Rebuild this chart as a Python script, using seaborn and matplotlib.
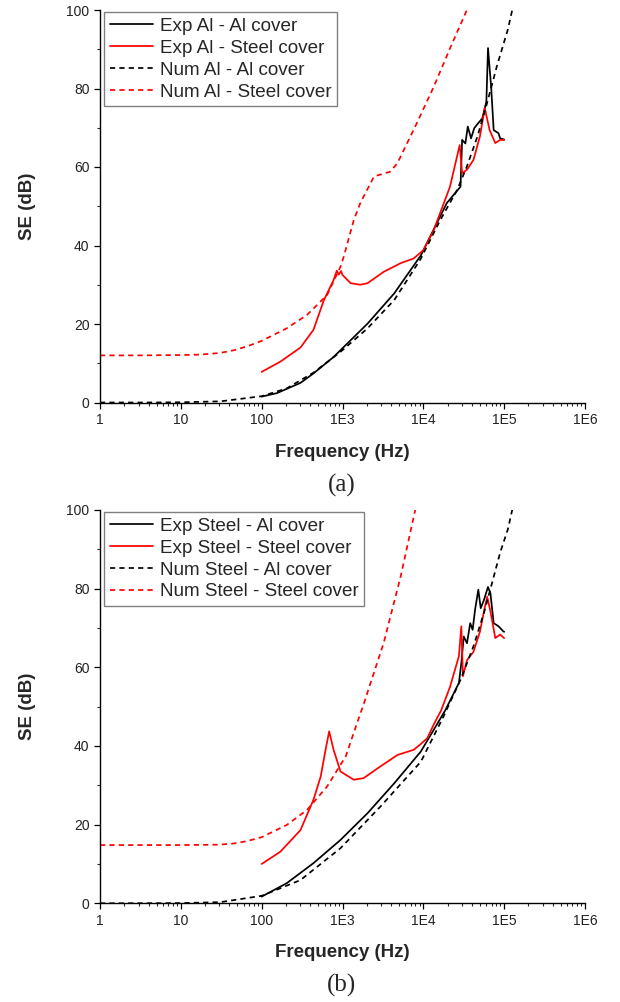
import numpy as np
import matplotlib
matplotlib.use('Agg')
import matplotlib.pyplot as plt
import matplotlib.ticker as mticker
import seaborn as sns

# ---- (a) Al enclosure ----
a_exp_al_f = [100, 155, 302, 437, 776, 2042, 4365, 9333, 19498, 28840, 30200, 33113,
              35481, 38905, 42658, 47863, 53703, 60256, 63096, 69183, 74131, 85114,
              89125, 100000]
a_exp_al_se = [1.5, 2.4, 5.0, 7.4, 11.6, 20.1, 27.8, 37.5, 50.8, 55.0, 66.9, 66.0,
               70.3, 67.3, 69.9, 71.2, 72.4, 76.7, 90.3, 80.1, 69.4, 68.6, 67.3, 67.0]

a_exp_st_f = [100, 170, 302, 437, 589, 776, 850, 900, 960, 1000, 1259, 1660, 2042, 3236,
              5248, 7586, 10000, 13490, 21380, 28184, 30200, 34674, 41687, 50119, 57544,
              66069, 77625, 89125, 100000]
a_exp_st_se = [7.8, 10.4, 14.0, 18.5, 26.1, 31.2, 33.6, 32.6, 33.5, 32.5, 30.4, 30.0,
               30.4, 33.3, 35.5, 36.7, 38.8, 44.0, 55.0, 65.6, 58.4, 59.3, 61.8, 67.8,
               75.0, 69.4, 66.1, 66.9, 66.9]

a_num_al_f = [1, 3.16, 10, 31, 100, 204, 437, 944, 2042, 4365, 9226, 16218, 26303,
              34674, 46774, 61660, 81283, 110917, 125893]
a_num_al_se = [0, 0, 0.05, 0.3, 1.6, 3.6, 7.6, 12.9, 18.9, 26.1, 36.5, 46.5, 54.2,
               60.2, 67.8, 76.4, 85.7, 95.0, 100.0]

a_num_st_f = [1, 3.16, 10, 17.4, 30, 45, 66, 100, 204, 363, 646, 944, 1035, 1380, 1660,
              2455, 3890, 4786, 8318, 13490, 21878, 36308]
a_num_st_se = [12.0, 12.0, 12.1, 12.2, 12.6, 13.3, 14.3, 15.7, 18.9, 22.3, 27.4, 34.6,
               37.1, 46.5, 50.8, 57.6, 58.8, 61.0, 71.2, 80.5, 90.7, 101.0]

# ---- (b) Steel enclosure ----
b_exp_al_f = [100, 204, 437, 944, 2042, 4365, 9333, 18621, 27542, 29512, 31623, 34674,
              38019, 40738, 43652, 47863, 51286, 56234, 63096, 67608, 74131, 85114,
              97724, 100000]
b_exp_al_se = [1.7, 5.1, 10.2, 16.1, 22.9, 30.5, 38.6, 49.0, 56.0, 61.0, 67.8, 66.1,
               71.2, 69.5, 74.6, 79.7, 75.0, 77.1, 80.4, 78.8, 71.2, 70.4, 69.1, 69.0]

b_exp_st_f = [100, 170, 302, 437, 537, 617, 684, 776, 944, 1380, 1820, 2951, 4786, 7586,
              9333, 11220, 13490, 16596, 21380, 27542, 29512, 30903, 34674, 41687,
              50119, 56234, 61660, 67608, 77625, 89125, 100000]
b_exp_st_se = [10.0, 13.1, 18.6, 26.3, 32.2, 39.0, 43.7, 39.0, 33.5, 31.4, 31.8, 34.8,
               37.7, 39.0, 40.5, 42.0, 45.5, 49.0, 55.0, 62.8, 70.4, 57.7, 61.8, 63.9,
               69.0, 74.2, 77.9, 74.2, 67.4, 68.3, 67.4]

b_num_al_f = [1, 10, 31, 100, 302, 944, 2951, 9333, 17783, 28840, 41687, 56234, 70795,
              89125, 110917, 125893]
b_num_al_se = [0, 0.05, 0.3, 1.9, 5.9, 14.0, 24.6, 36.0, 47.5, 56.8, 65.3, 73.8, 81.4,
               89.1, 95.0, 100.0]

b_num_st_f = [1, 10, 30, 45, 66, 100, 204, 363, 646, 944, 1096, 1380, 1820, 3236, 5248,
              7943]
b_num_st_se = [14.8, 14.8, 14.9, 15.2, 15.8, 16.8, 19.9, 23.7, 29.7, 35.2, 37.3, 43.4,
               50.5, 66.2, 83.1, 100.0]

a_labels = ['Exp Al - Al cover', 'Exp Al - Steel cover',
            'Num Al - Al cover', 'Num Al - Steel cover']
b_labels = ['Exp Steel - Al cover', 'Exp Steel - Steel cover',
            'Num Steel - Al cover', 'Num Steel - Steel cover']
xtick_vals = [1, 10, 100, 1e3, 1e4, 1e5, 1e6]
xtick_labels = ['1', '10', '100', '1E3', '1E4', '1E5', '1E6']

sns.set_style('ticks')
plt.rcParams['font.family'] = ['Liberation Sans', 'DejaVu Sans']

fig = plt.figure(figsize=(6.2, 10.02), dpi=100)
ax1 = fig.add_axes([100/620, 1 - 402.5/1002, 485/620, 392.5/1002])
ax2 = fig.add_axes([100/620, 1 - 903.3/1002, 485/620, 393.5/1002])

dash = (0, (3.0, 2.4))


def draw(ax, series, labels):
    styles = [('black', '-'), ('red', '-'), ('black', dash), ('red', dash)]
    for (f, se), lab, (c, ls) in zip(series, labels, styles):
        sns.lineplot(x=f, y=se, ax=ax, color=c, linestyle=ls, linewidth=1.25,
                     label=lab, sort=False)
    ax.set_xscale('log')
    ax.set_xlim(1, 1e6)
    ax.set_ylim(0, 100)
    ax.set_xticks(xtick_vals)
    ax.set_xticklabels(xtick_labels)
    ax.xaxis.set_minor_locator(mticker.LogLocator(base=10, subs=np.arange(2, 10), numticks=20))
    ax.xaxis.set_minor_formatter(mticker.NullFormatter())
    ax.set_yticks([0, 20, 40, 60, 80, 100])
    ax.yaxis.set_minor_locator(mticker.MultipleLocator(10))
    ax.tick_params(which='major', direction='out', length=4, width=0.9,
                   labelsize=10, colors='black', labelcolor='#222222')
    ax.tick_params(which='minor', direction='out', length=2.4, width=0.8)
    for s in ['top', 'right']:
        ax.spines[s].set_visible(False)
    for s in ['left', 'bottom']:
        ax.spines[s].set_linewidth(1.0)
        ax.spines[s].set_color('black')
    ax.set_xlabel('Frequency (Hz)', fontsize=13.5, fontweight='bold', labelpad=12)
    ax.set_ylabel('SE (dB)', fontsize=13.5, fontweight='bold', labelpad=22)
    leg = ax.legend(loc='upper left', bbox_to_anchor=(0.008, 0.995), borderaxespad=0,
                    fontsize=13.6, frameon=True, fancybox=False, framealpha=1,
                    edgecolor='#808080', handlelength=2.3, handletextpad=0.35,
                    labelspacing=0.25, borderpad=0.3)
    leg.get_frame().set_linewidth(1.0)
    ax.grid(False)


draw(ax1, [(a_exp_al_f, a_exp_al_se), (a_exp_st_f, a_exp_st_se),
           (a_num_al_f, a_num_al_se), (a_num_st_f, a_num_st_se)], a_labels)
draw(ax2, [(b_exp_al_f, b_exp_al_se), (b_exp_st_f, b_exp_st_se),
           (b_num_al_f, b_num_al_se), (b_num_st_f, b_num_st_se)], b_labels)

fig.text(342/620, 1 - 485/1002, '(a)', ha='center', va='center', fontsize=18,
         family=['Liberation Serif', 'DejaVu Serif'])
fig.text(342/620, 1 - 985/1002, '(b)', ha='center', va='center', fontsize=18,
         family=['Liberation Serif', 'DejaVu Serif'])

fig.savefig('out.png', dpi=100)
